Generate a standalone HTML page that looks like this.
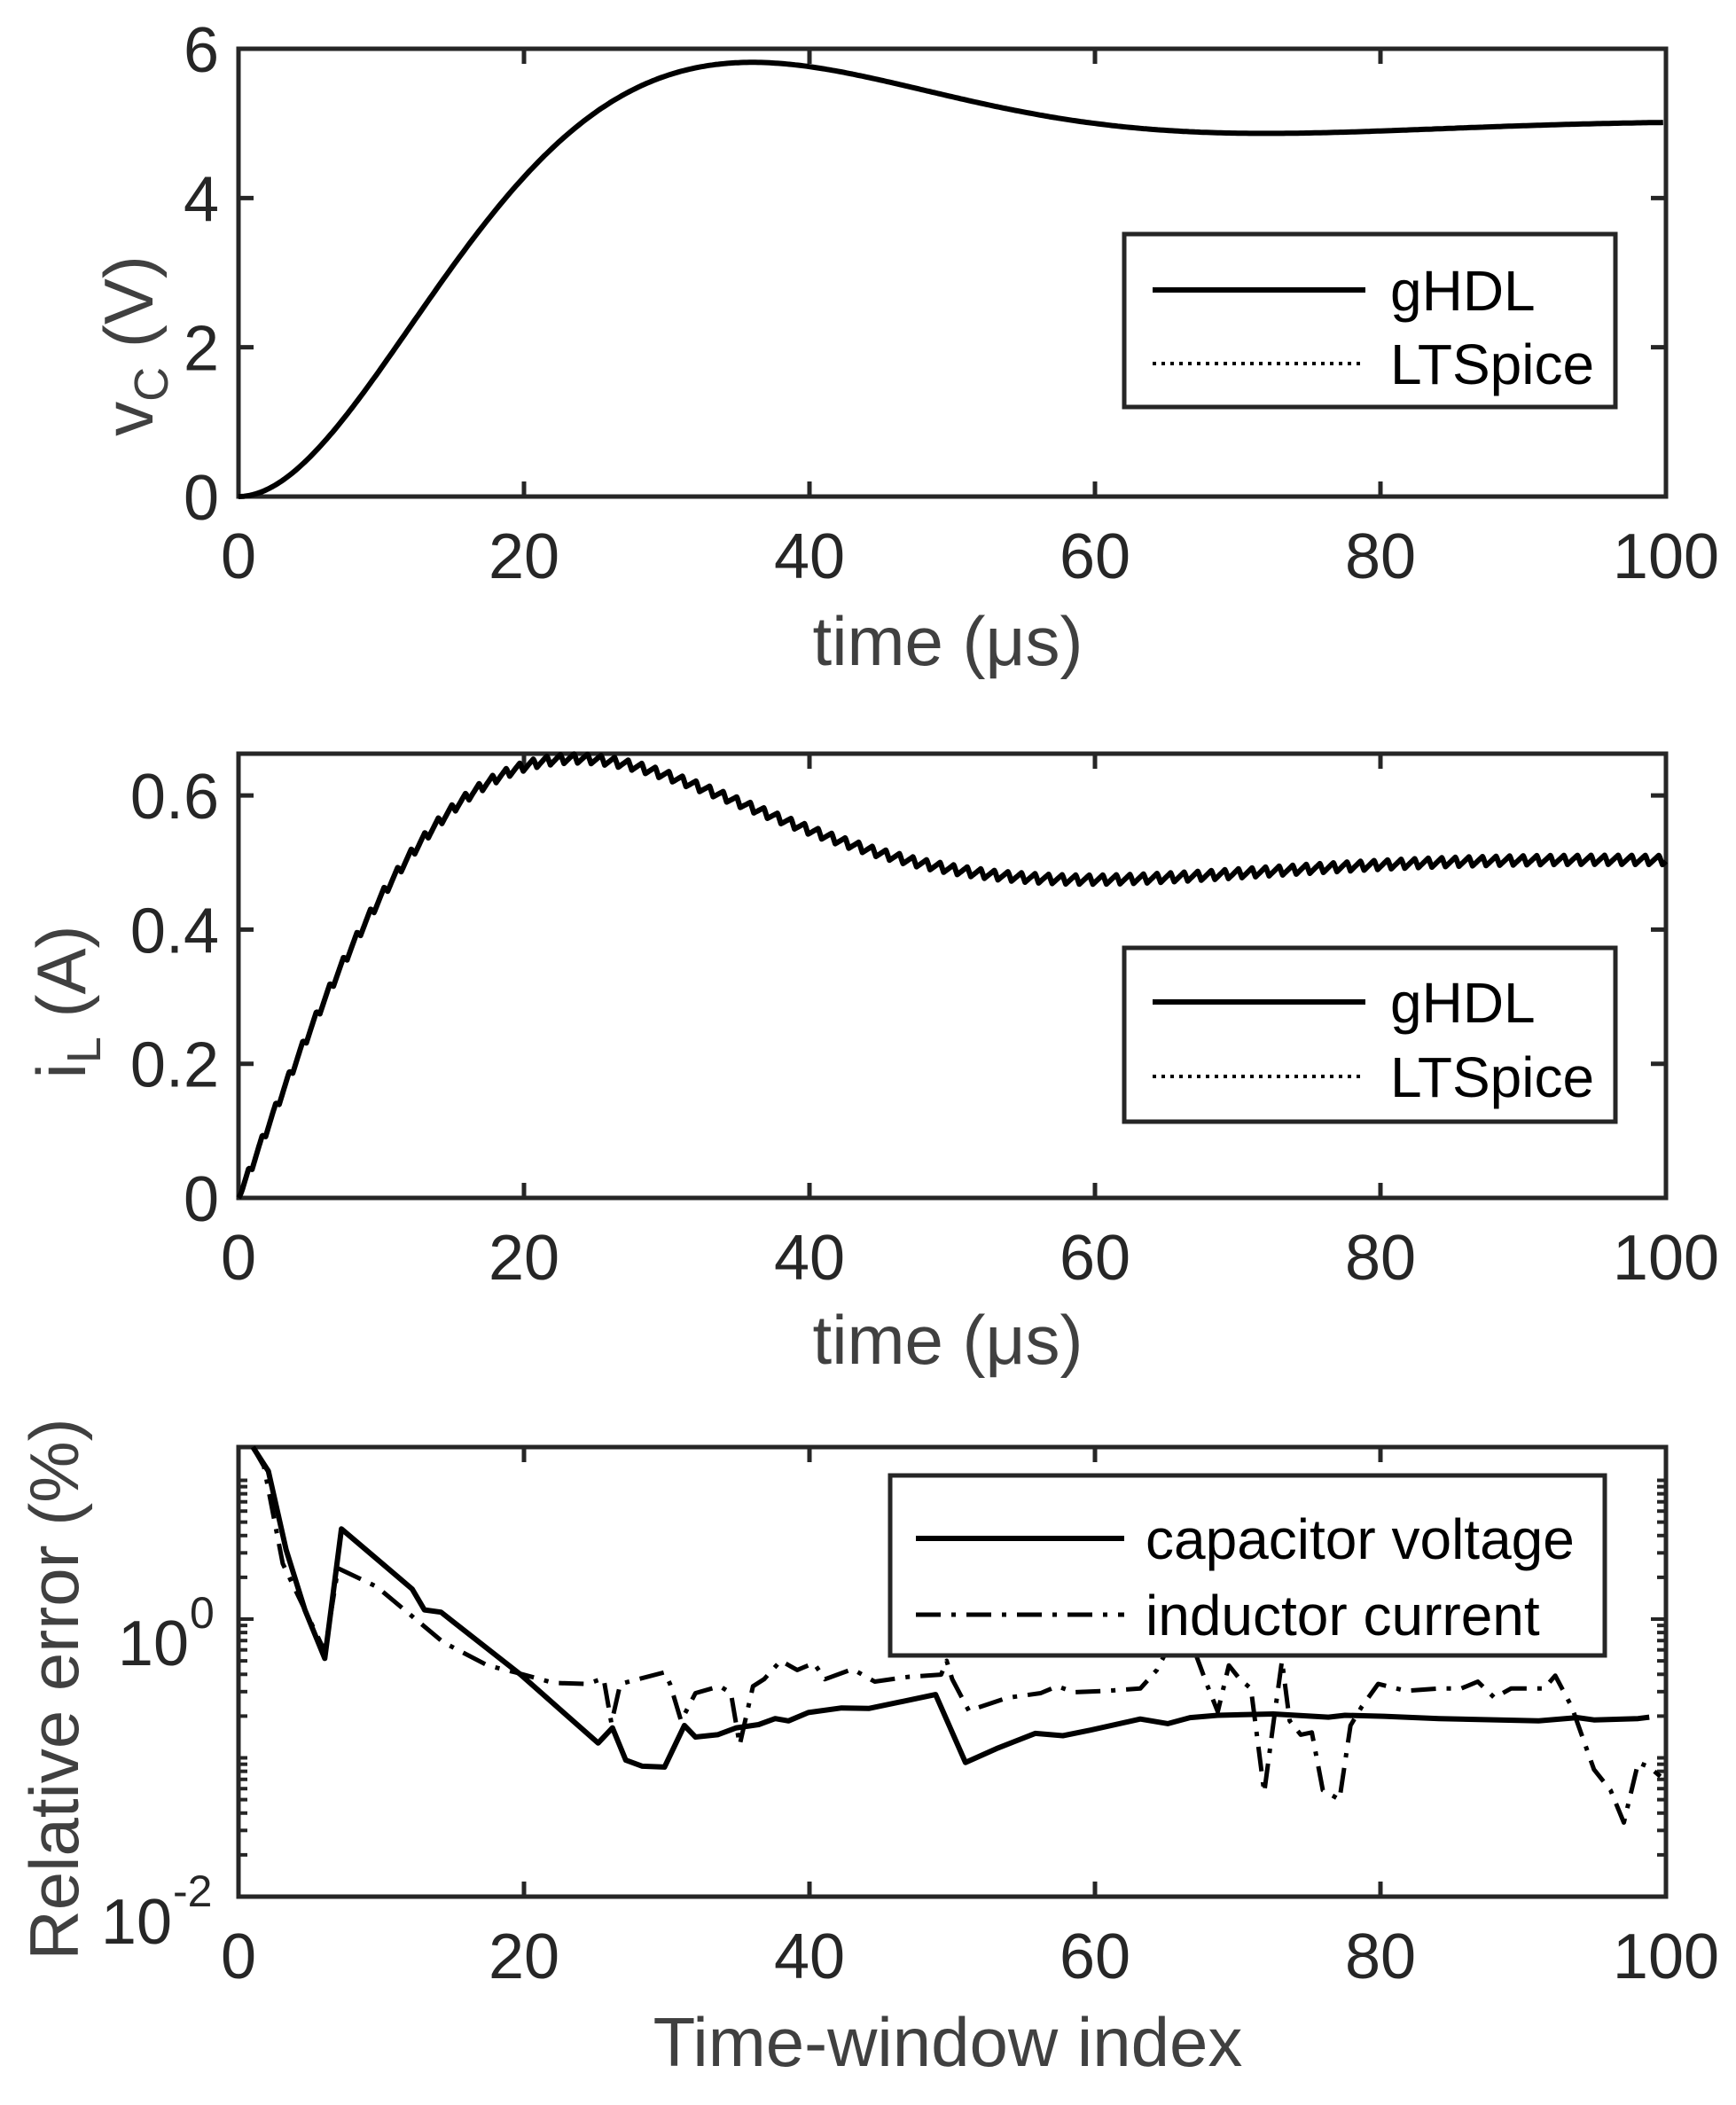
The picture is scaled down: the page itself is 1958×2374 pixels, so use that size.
<!DOCTYPE html>
<html><head><meta charset="utf-8"><style>
html,body{margin:0;padding:0;background:#fff;}
svg{display:block;}
text{font-family:"Liberation Sans",Arial,sans-serif;}
</style></head><body>
<svg id="s" width="1958" height="2374" viewBox="0 0 1958 2374" xmlns="http://www.w3.org/2000/svg">
<rect width="1958" height="2374" fill="#fff"/>
<g id="g"></g>
</svg>
<script>
const NS="http://www.w3.org/2000/svg";
const G=document.getElementById('g');
function el(tag,attrs,txt){const e=document.createElementNS(NS,tag);for(const k in attrs)e.setAttribute(k,attrs[k]);if(txt!==undefined)e.textContent=txt;G.appendChild(e);return e;}
const L=269,R=1879,W=R-L;
const AX='#262626';
const FS=72, LFS=78;
function frame(top,bot){
  el('rect',{x:L,y:top,width:W,height:bot-top,fill:'none',stroke:AX,'stroke-width':5});
}
function xticks(top,bot,lblY){
  for(let v=0;v<=100;v+=20){const x=L+v*W/100;
    el('line',{x1:x,y1:bot,x2:x,y2:bot-17,stroke:AX,'stroke-width':5});
    el('line',{x1:x,y1:top,x2:x,y2:top+17,stroke:AX,'stroke-width':5});
    el('text',{x:x,y:lblY,'font-size':FS,'text-anchor':'middle',fill:AX},String(v));
  }
}
function yticksLin(vals,fy,labels){
  vals.forEach((v,i)=>{const y=fy(v);
    el('line',{x1:L,y1:y,x2:L+17,y2:y,stroke:AX,'stroke-width':5});
    el('line',{x1:R,y1:y,x2:R-17,y2:y,stroke:AX,'stroke-width':5});
    el('text',{x:247,y:y+26,'font-size':FS,'text-anchor':'end',fill:AX},labels[i]);
  });
}
function path(pts,attrs){let d='M'+pts.map(p=>p[0].toFixed(1)+','+p[1].toFixed(1)).join('L');
  const a=Object.assign({d:d,fill:'none',stroke:'#000','stroke-width':6,'stroke-linejoin':'round'},attrs);el('path',a);}
function legend(x1,y1,x2,y2,rows,lx1,lx2,tx){
  el('rect',{x:x1,y:y1,width:x2-x1,height:y2-y1,fill:'#fff',stroke:AX,'stroke-width':5});
  rows.forEach(r=>{
    const a={x1:lx1,y1:r.y,x2:lx2,y2:r.y,stroke:'#000','stroke-width':r.w||6};
    if(r.dash)a['stroke-dasharray']=r.dash;
    el('line',a);
    el('text',{x:tx,y:r.y+23,'font-size':64,fill:'#000'},r.t);
  });
}
// ---------- Plot 1 ----------
const T1=55,B1=560;
frame(T1,B1);
const fy1=v=>B1-v*(B1-T1)/6;
yticksLin([0,2,4,6],fy1,['0','2','4','6']);
xticks(T1,B1,652);
const a=0.0503,w=0.0873;
let p1=[];
for(let t=0;t<=100;t+=0.2){const v=5*(1-Math.exp(-a*t)*(Math.cos(w*t)+a/w*Math.sin(w*t)));p1.push([L+t*W/100,fy1(v)]);}
path(p1,{});
el('text',{x:1069,y:750,'font-size':LFS,'text-anchor':'middle',fill:'#404040'},'time (\u03bcs)');
{const t=el('text',{transform:'translate(172,390) rotate(-90)','font-size':LFS,'text-anchor':'middle',fill:'#404040'});
 t.innerHTML='v<tspan font-size="54" dy="17">C</tspan><tspan dy="-17"> (V)</tspan>';}
legend(1268,264,1822,459,[{y:327,t:'gHDL'},{y:410,t:'LTSpice',dash:'4,6',w:4}],1300,1540,1568);
// ---------- Plot 2 ----------
const T2=850,B2=1351;
frame(T2,B2);
const fy2=v=>B2-v*756.5;
yticksLin([0,0.2,0.4,0.6],fy2,['0','0.2','0.4','0.6']);
xticks(T2,B2,1443);
let p2=[];const per=0.95,pp=0.014,rf=0.75;
for(let t=0;t<=100;t+=0.05){
  let base=0.5+Math.exp(-a*t)*(-0.5*Math.cos(w*t)+0.31*Math.sin(w*t));
  let ph=(t%per)/per, r;
  if(ph<rf) r=-pp/2+pp*ph/rf; else r=pp/2-pp*(ph-rf)/(1-rf);
  let v=base+r*Math.min(1,t/0.3);
  if(v<0)v=0;
  p2.push([L+t*W/100,fy2(v)]);}
path(p2,{});
el('text',{x:1069,y:1538,'font-size':LFS,'text-anchor':'middle',fill:'#404040'},'time (\u03bcs)');
{const t=el('text',{transform:'translate(96,1130) rotate(-90)','font-size':LFS,'text-anchor':'middle',fill:'#404040'});
 t.innerHTML='i<tspan font-size="54" dy="17">L</tspan><tspan dy="-17"> (A)</tspan>';}
legend(1268,1069,1822,1265,[{y:1130,t:'gHDL'},{y:1214,t:'LTSpice',dash:'4,6',w:4}],1300,1540,1568);
// ---------- Plot 3 ----------
const T3=1632,B3=2139,Y0=1826,DEC=(B3-Y0)/2;
frame(T3,B3);
const fy3=v=>Y0-Math.log10(v)*DEC;
for(let d=-2;d<=1;d++){for(let k=1;k<=9;k++){const v=k*Math.pow(10,d);const y=fy3(v);if(y<T3+2)continue;
  const major=(k===1&&(d===-2||d===0));const len=major?17:10;
  el('line',{x1:L,y1:y,x2:L+len,y2:y,stroke:AX,'stroke-width':4});
  el('line',{x1:R,y1:y,x2:R-len,y2:y,stroke:AX,'stroke-width':4});}}
el('text',{x:213,y:1878,'font-size':FS,'text-anchor':'end',fill:AX},'10');
el('text',{x:214,y:1836,'font-size':50,fill:AX},'0');
el('text',{x:194,y:2192,'font-size':FS,'text-anchor':'end',fill:AX},'10');
el('text',{x:195,y:2150,'font-size':50,fill:AX},'-2');
xticks(T3,B3,2231);
el('text',{x:1069,y:2330,'font-size':LFS,'text-anchor':'middle',fill:'#404040'},'Time-window index');
el('text',{transform:'translate(88,1905) rotate(-90)','font-size':LFS,'text-anchor':'middle',fill:'#404040'},'Relative error (%)');
const mx=x=>269+(x-215)*1.248, my=y=>1632+(y-178)*0.5216;
const cv=[[228,178],[242,230],[258,400],[275,530],[293,635],[308,355],[340,420],[372,485],[383,530],[398,535],[470,670],[540,818],[553,785],[565,855],[580,868],[600,870],[618,780],[628,805],[648,800],[665,785],[685,778],[700,765],[712,770],[730,752],[760,742],[785,743],[845,713],[872,860],[900,830],[935,797],[960,802],[985,790],[1030,766],[1055,776],[1075,763],[1100,758],[1150,755],[1200,762],[1215,758],[1250,760],[1300,765],[1390,770],[1425,763],[1440,768],[1480,765],[1490,762]];
const ic=[[228,178],[238,220],[255,430],[275,530],[293,620],[305,440],[340,480],[370,540],[400,600],[440,650],[465,665],[500,688],[530,690],[545,678],[552,775],[560,690],[600,665],[605,690],[615,770],[628,710],[650,695],[660,710],[668,822],[680,695],[690,680],[705,640],[720,660],[735,645],[745,680],[770,658],[790,685],[820,675],[850,670],[855,640],[860,680],[875,748],[910,720],[940,710],[955,695],[970,708],[1000,705],[1030,700],[1045,660],[1060,590],[1080,625],[1090,690],[1100,750],[1110,650],[1120,680],[1130,700],[1142,925],[1150,780],[1158,640],[1165,770],[1175,800],[1185,795],[1195,920],[1210,940],[1220,780],[1230,740],[1245,690],[1270,705],[1300,700],[1320,700],[1335,685],[1350,720],[1365,700],[1395,700],[1405,672],[1420,740],[1440,875],[1455,920],[1467,990],[1480,860],[1490,870],[1500,890]];
path(ic.map(p=>[mx(p[0]),my(p[1])]),{'stroke-dasharray':'28,12,5,12','stroke-width':5});
path(cv.map(p=>[mx(p[0]),my(p[1])]),{});
legend(1004,1664,1810,1867,[{y:1735,t:'capacitor voltage'},{y:1821,t:'inductor current',dash:'28,12,5,12',w:5}],1033,1268,1292);
</script>
</body></html>
